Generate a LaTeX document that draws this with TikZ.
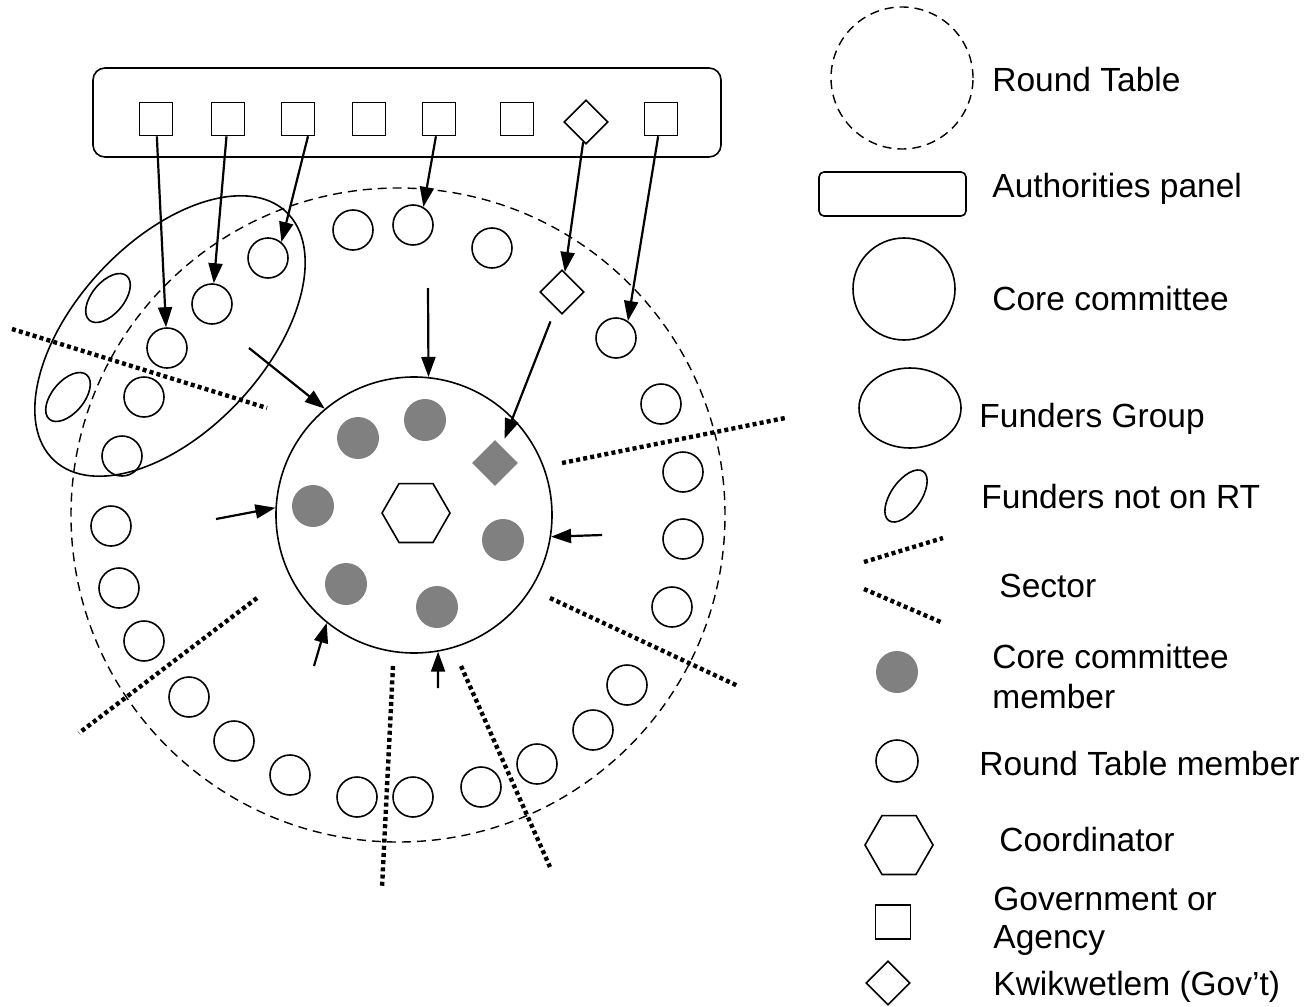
\documentclass[tikz,border=0pt]{standalone}
\usepackage{fontspec}
\setmainfont{Liberation Sans}
\usetikzlibrary{shapes.geometric,arrows.meta}

\tikzstyle{panel}=[draw, line width=0.8pt, rounded corners=6pt, inner sep=0pt]
\tikzstyle{gov}=[draw, line width=0.8pt, minimum size=16.5pt, inner sep=0pt]
\tikzstyle{kwik}=[draw, diamond, line width=0.8pt, minimum size=22pt, inner sep=0pt]
\tikzstyle{member}=[draw, circle, line width=0.8pt, minimum size=20pt, inner sep=0pt]
\tikzstyle{core}=[circle, fill=gray, minimum size=21pt, inner sep=0pt]
\tikzstyle{corekwik}=[diamond, fill=gray, minimum size=23pt, inner sep=0pt]
\tikzstyle{roundtable}=[draw, circle, line width=0.7pt, dash pattern=on 4.5pt off 3pt, inner sep=0pt]
\tikzstyle{committee}=[draw, circle, line width=0.8pt, inner sep=0pt]
\tikzstyle{funders}=[draw, ellipse, line width=0.8pt, inner sep=0pt]
\tikzstyle{funder}=[draw, ellipse, line width=0.8pt, minimum width=29pt, minimum height=16pt, inner sep=0pt]
\tikzstyle{coordinator}=[draw, regular polygon, regular polygon sides=6, line width=0.8pt, minimum size=34pt, inner sep=0pt]
\tikzstyle{sector}=[line width=2.2pt, dash pattern=on 2pt off 1.6pt]
\tikzstyle{dep}=[-{Triangle[length=10pt, width=7pt]}, line width=1.1pt]
\tikzstyle{legtext}=[anchor=base west, inner sep=0pt, align=left, font=\fontsize{16.75pt}{20pt}\selectfont]

\begin{document}
\begin{tikzpicture}[x=0.5pt, y=-0.5pt]
      \useasboundingbox (0,0) rectangle (1315,1006);
      % authorities panel
      \node[panel, minimum width=314pt, minimum height=44.5pt] (panel) at (407,112.5) {};
      \foreach \i/\x in {1/156, 2/228, 3/298, 4/369, 5/439, 6/517, 8/661} {%
        \node[gov] (g\i) at (\x, 119) {};
      }
      \node[kwik] (g7) at (586,122) {};

      % round table, funders group, core committee
      \node[roundtable, minimum size=327pt] (rt) at (398,515) {};
      \node[funders, minimum width=170pt, minimum height=95pt, rotate=47] (fg) at (170,336) {};
      \node[committee, minimum size=138pt] (cc) at (414,515) {};
      \node[coordinator] (hex) at (416,513) {};

      % round table members
      \foreach \x/\y [count=\i] in {268/258, 212/304, 167/348, 144/397, 122/456,
          111/526, 119/588, 144/641, 189/697, 234/741, 290/775, 357/797, 413/797,
          481/787, 537/764, 593/730, 627/685, 672/607, 683/539, 683/472, 661/404,
          616/338, 492/248, 413/225, 353/230} {%
        \node[member] (m\i) at (\x,\y) {};
      }
      \node[kwik] (k) at (562,292) {};
      \node[funder, rotate=50] (f1) at (108,298) {};
      \node[funder, rotate=50] (f2) at (68,397) {};

      % core committee members
      \foreach \x/\y [count=\i] in {358/438, 425/420, 313/506, 503/540, 346/584, 437/607} {%
        \node[core] (c\i) at (\x,\y) {};
      }
      \node[corekwik] (ck) at (495,463) {};

      % sectors
      \foreach \xa/\ya/\xb/\yb in {12/329/267/408, 562/463/785/418, 550/598/738/686,
          461/666/550/867, 393/666/382/888, 257/598/79/733} {%
        \draw[sector] (\xa,\ya) -- (\xb,\yb);
      }

      % panel to round table
      \draw[dep] (g1) -- (m3);
      \draw[dep] (g2) -- (m2);
      \draw[dep] (g3.-60) -- (m1.50);
      \draw[dep] (g5) -- (m24.60);
      \draw[dep] (g7) -- (k);
      \draw[dep] (g8) -- (m22.55);

      % round table to core committee
      \coordinate (a1) at (249,348);
      \coordinate (a2) at (428,288);
      \coordinate (a3) at (216,519);
      \coordinate (a4) at (602,535);
      \coordinate (a5) at (314,666);
      \coordinate (a6) at (438,688);
      \draw[dep] (a1) -- (cc.130);
      \draw[dep] (a2) -- (cc.84);
      \draw[dep] (a3) -- (cc.177);
      \draw[dep] (a4) -- (cc.-9);
      \draw[dep] (a5) -- (cc.231);
      \draw[dep] (a6) -- (cc.280);
      \draw[dep, shorten <=7pt, shorten >=4pt] (k) -- (ck);

      % legend
      \node[roundtable, minimum size=71pt] (lrt) at (902,78) {};
      \node[panel, rounded corners=2.5pt, minimum width=73.5pt, minimum height=22pt] (lpanel) at (892.5,194) {};
      \node[committee, minimum size=51pt] (lcc) at (904,289) {};
      \node[funders, minimum width=51pt, minimum height=40pt] (lfg) at (910,408) {};
      \node[funder, rotate=55, minimum width=30pt, minimum height=15pt] (lf) at (906,496) {};
      \draw[sector] (864,562) -- (943,538);
      \draw[sector] (864,589) -- (943,623);
      \node[core] (lc) at (897,672) {};
      \node[member, minimum size=21pt] (lm) at (897,761) {};
      \node[coordinator] (lhex) at (899,845) {};
      \node[gov, minimum width=17.5pt, minimum height=17pt] (lg) at (893,922) {};
      \node[kwik] (lk) at (888,983) {};

      \node[legtext] (trt) at (992,91) {Round Table};
      \node[legtext] (tpanel) at (992,197) {Authorities panel};
      \node[legtext] (tcc) at (992,310) {Core committee};
      \node[legtext] (tfg) at (979,427) {Funders Group};
      \node[legtext] (tf) at (981,508) {Funders not on RT};
      \node[legtext] (tsec) at (999,597) {Sector};
      \node[legtext] (tc) at (992,708) {Core committee\\member};
      \node[legtext] (tm) at (979,775) {Round Table member};
      \node[legtext] (thex) at (999,851) {Coordinator};
      \node[legtext, font=\fontsize{16.75pt}{19pt}\selectfont] (tg) at (993,948) {Government or\\Agency};
      \node[legtext] (tk) at (993,995) {Kwikwetlem (Gov’t)};
    \end{tikzpicture}
\end{document}
